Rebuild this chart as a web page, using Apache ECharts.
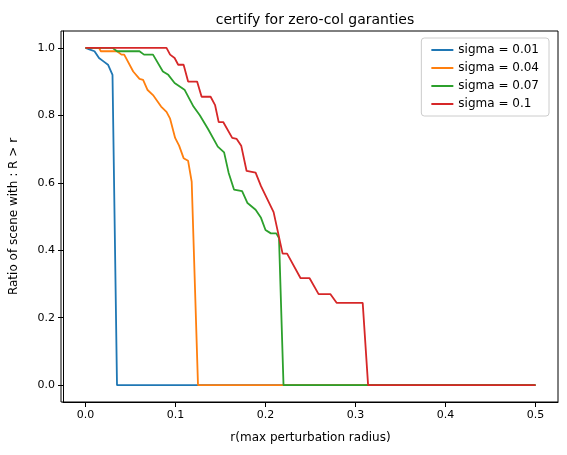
<!DOCTYPE html>
<html>
<head>
<meta charset="utf-8">
<script src="https://cdn.jsdelivr.net/npm/echarts@6/dist/echarts.min.js"></script>
<style>html,body{margin:0;padding:0;background:#fff}#chart{width:567px;height:455px}</style>
</head>
<body>
<div id="chart"></div>
<script>
var seriesNames = ['sigma = 0.01', 'sigma = 0.04', 'sigma = 0.07', 'sigma = 0.1'];
var colors = ['#1f77b4', '#ff7f0e', '#2ca02c', '#d62728'];
var xTicks = [0, 0.1, 0.2, 0.3, 0.4, 0.5];
var yTicks = [0, 0.2, 0.4, 0.6, 0.8, 1.0];

// [r, ratio] pairs
var sigma001 = [[0,1],[0.005,0.995],[0.01,0.99],[0.015,0.97],[0.02,0.96],[0.025,0.95],[0.03,0.92],[0.035,0],[0.5,0]];
var sigma004 = [[0,1],[0.015,1],[0.017,0.99],[0.035,0.99],[0.04,0.98],[0.043,0.98],[0.053,0.93],[0.06,0.908],[0.064,0.905],
  [0.069,0.875],[0.075,0.86],[0.084,0.826],[0.09,0.81],[0.094,0.79],[0.0996,0.733],[0.104,0.71],[0.109,0.673],
  [0.114,0.665],[0.118,0.603],[0.125,0],[0.5,0]];
var sigma007 = [[0,1],[0.03,1],[0.035,0.99],[0.06,0.99],[0.065,0.98],[0.075,0.98],[0.086,0.93],[0.092,0.92],[0.099,0.896],
  [0.11,0.876],[0.12,0.826],[0.127,0.80],[0.136,0.76],[0.147,0.707],[0.154,0.69],[0.159,0.63],[0.165,0.58],
  [0.174,0.575],[0.18,0.54],[0.189,0.52],[0.195,0.496],[0.2,0.46],[0.206,0.45],[0.212,0.45],[0.215,0.436],[0.22,0],[0.5,0]];
var sigma01 = [[0,1],[0.09,1],[0.094,0.98],[0.099,0.97],[0.103,0.95],[0.109,0.95],[0.114,0.90],[0.124,0.90],[0.129,0.855],
  [0.139,0.855],[0.144,0.83],[0.148,0.78],[0.153,0.78],[0.163,0.733],[0.168,0.73],[0.173,0.71],[0.179,0.635],
  [0.189,0.63],[0.195,0.59],[0.209,0.513],[0.219,0.39],[0.224,0.39],[0.239,0.317],[0.249,0.317],[0.259,0.27],
  [0.272,0.27],[0.279,0.244],[0.308,0.244],[0.314,0],[0.5,0]];
var allData = [sigma001, sigma004, sigma007, sigma01];

var myChart = echarts.init(document.getElementById('chart'));
var font = 'DejaVu Sans';
var option = {
    animation: false,
    color: colors,
    title: {
        text: 'certify for zero-col garanties', left: 310, top: 8, textAlign: 'center',
        textStyle: { fontFamily: font, fontSize: 14, fontWeight: 'normal', color: '#000' }
    },
    grid: { left: 61, right: 9, top: 31, bottom: 53 },
    legend: {
        orient: 'vertical', right: 18, top: 38, itemWidth: 22, itemHeight: 2, itemGap: 6,
        icon: 'rect', backgroundColor: '#fff', borderColor: '#ccc', borderWidth: 1, borderRadius: 3, padding: [6, 10],
        textStyle: { fontFamily: font, fontSize: 12, color: '#000' },
        data: seriesNames
    },
    xAxis: {
        type: 'value', min: -0.025, max: 0.525,
        name: 'r(max perturbation radius)', nameLocation: 'middle', nameGap: 30,
        nameTextStyle: { fontFamily: font, fontSize: 12, color: '#000' },
        axisLine: { onZero: false, lineStyle: { color: '#000' } },
        axisTick: { show: true, lineStyle: { color: '#000' }, customValues: xTicks },
        splitLine: { show: false },
        axisLabel: {
            fontFamily: font, fontSize: 11, color: '#000', customValues: xTicks,
            formatter: function (v) { return v.toFixed(1); }
        }
    },
    yAxis: {
        type: 'value', min: -0.05, max: 1.05,
        name: 'Ratio of scene with : R > r', nameLocation: 'middle', nameGap: 43,
        nameTextStyle: { fontFamily: font, fontSize: 12, color: '#000' },
        axisLine: { show: true, onZero: false, lineStyle: { color: '#000' } },
        axisTick: { show: true, lineStyle: { color: '#000' }, customValues: yTicks },
        splitLine: { show: false },
        axisLabel: {
            fontFamily: font, fontSize: 11, color: '#000', customValues: yTicks,
            formatter: function (v) { return v.toFixed(1); }
        }
    },
    series: allData.map(function (d, i) {
        return {
            name: seriesNames[i], type: 'line', data: d, showSymbol: false, symbol: 'none',
            lineStyle: { width: 1.8, color: colors[i] }
        };
    })
};
myChart.setOption(option);
// box around plot
myChart.setOption({
    graphic: [{ type: 'rect', shape: { x: 61, y: 31, width: 497, height: 371 }, style: { fill: 'none', stroke: '#000', lineWidth: 1 }, silent: true }]
});
</script>
</body>
</html>
